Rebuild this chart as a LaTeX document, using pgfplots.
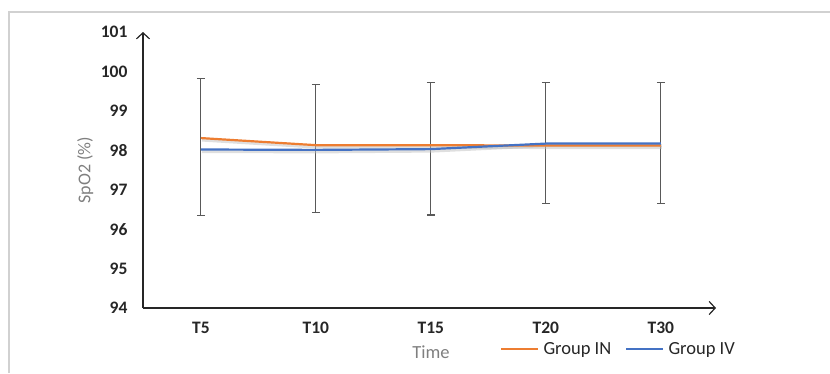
\documentclass[border=0pt]{standalone}
\usepackage{fontspec}
\setmainfont{Carlito}
\usepackage{pgfplots}
\pgfplotsset{compat=1.18}
\usetikzlibrary{arrows.meta}
\definecolor{orIN}{HTML}{ED7D31}
\definecolor{blIV}{HTML}{4472C4}
\definecolor{ebar}{HTML}{595959}
\definecolor{lblgray}{HTML}{7F7F7F}
\begin{document}
\begin{tikzpicture}
\useasboundingbox (0,0) rectangle (830pt,373pt);
\draw[black!18, line width=1.2pt] (9pt,0) -- (9pt,361pt) -- (830pt,361pt);
\begin{axis}[
  at={(143pt,65pt)}, anchor=south west,
  scale only axis, width=573pt, height=276pt,
  xmin=-0.504, xmax=4.48, ymin=94, ymax=101,
  axis lines=left,
  axis line style={line width=1.3pt, black!85, -{Straight Barb[length=6pt,width=13pt,line width=1.2pt]}},
  xtick={0,1,2,3,4}, xticklabels={T5,T10,T15,T20,T30},
  ytick={94,95,96,97,98,99,100,101},
  major tick length=0pt,
  /pgf/number format/assume math mode=true,
  ticklabel style={font=\fontsize{17.5}{20}\selectfont\bfseries, text=black!85},
  yticklabel style={anchor=east, xshift=-12pt},
  xticklabel style={anchor=center, yshift=-20pt},
  ylabel={SpO2 (\%)}, ylabel style={font=\fontsize{18}{20}\selectfont, text=lblgray, at={(-0.101,0.5)}, anchor=center},
  xlabel={Time}, xlabel style={font=\fontsize{18.5}{20}\selectfont, text=lblgray, at={(0.5026,-0.159)}, anchor=center},
  clip=false,
  legend columns=2,
  legend style={draw=none, fill=none, at={(0.618,-0.149)}, anchor=west,
    font=\fontsize{18.5}{20}\selectfont, text=black!85,
    /tikz/every odd column/.append style={column sep=2pt},
    /tikz/every even column/.append style={column sep=12pt},
    nodes={inner sep=2pt}},
  legend image code/.code={\draw[#1, line width=2.2pt] (0pt,0pt) -- (37pt,0pt);},
]
% error bars
\addplot[draw=none, mark=none, forget plot,
  error bars/.cd, y dir=both, y explicit,
  error bar style={ebar, line width=1.1pt},
  error mark options={ebar, rotate=90, mark size=4pt, line width=1.1pt}]
  table[x=x, y=y, y error=e] {
x y e
0 98.08 1.73
1 98.045 1.625
2 98.045 1.685
3 98.185 1.545
4 98.185 1.545
};
% shadows
\addplot[black!25, line width=3pt, opacity=0.5, forget plot, shift={(1pt,-2pt)}]
  coordinates {(0,98.31) (1,98.13) (2,98.13) (3,98.12) (4,98.12)};
\addplot[black!25, line width=3pt, opacity=0.5, forget plot, shift={(1pt,-2pt)}]
  coordinates {(0,98.02) (1,98.01) (2,98.03) (3,98.17) (4,98.17)};
% series
\addplot[orIN, line width=2.2pt]
  coordinates {(0,98.31) (1,98.13) (2,98.13) (3,98.12) (4,98.12)};
\addlegendentry{Group IN}
\addplot[blIV, line width=2.2pt]
  coordinates {(0,98.02) (1,98.01) (2,98.03) (3,98.17) (4,98.17)};
\addlegendentry{Group IV}
\end{axis}
\end{tikzpicture}
\end{document}
